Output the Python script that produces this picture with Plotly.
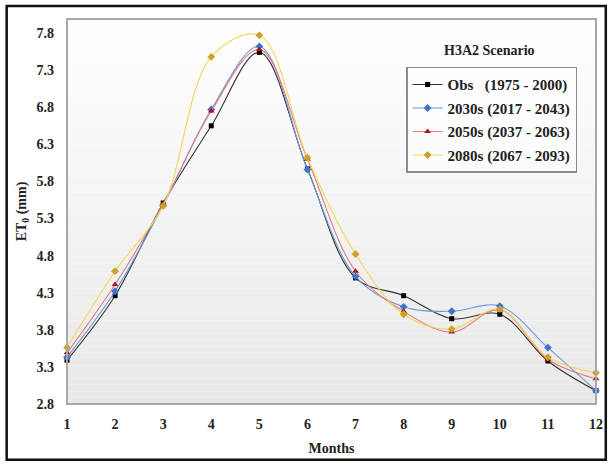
import plotly.graph_objects as go

# Monthly reference evapotranspiration (mm) for the H3A2 scenario
months = list(range(1, 13))
obs_1975_2000 = [3.39, 4.26, 5.51, 6.55, 7.54, 5.97, 4.50, 4.26, 3.95, 4.01, 3.38, 2.98]
s2030_2017_2043 = [3.43, 4.32, 5.48, 6.77, 7.62, 5.96, 4.52, 4.11, 4.05, 4.12, 3.56, 2.98]
s2050_2037_2063 = [3.49, 4.41, 5.50, 6.75, 7.58, 6.10, 4.59, 4.05, 3.77, 4.07, 3.40, 3.14]
s2080_2067_2093 = [3.56, 4.59, 5.47, 7.48, 7.77, 6.12, 4.82, 4.01, 3.81, 4.08, 3.43, 3.22]

series_names = [
    "Obs\u00a0\u00a0\u00a0(1975 - 2000)",
    "2030s (2017 - 2043)",
    "2050s (2037 - 2063)",
    "2080s (2067 - 2093)",
]
y_ticks = [2.8, 3.3, 3.8, 4.3, 4.8, 5.3, 5.8, 6.3, 6.8, 7.3, 7.8]

SERIF = "Liberation Serif"

styles = [
    dict(line="#333333", marker="#000000", symbol="square", size=5),
    dict(line="#6b9ad8", marker="#3d73c8", symbol="diamond", size=6),
    dict(line="#e07a82", marker="#b5121b", symbol="triangle-up", size=6),
    dict(line="#f3d65a", marker="#c9a227", symbol="diamond", size=6),
]

fig = go.Figure()
for i, (name, vals, st) in enumerate(zip(series_names,
                                         [obs_1975_2000, s2030_2017_2043, s2050_2037_2063, s2080_2067_2093],
                                         styles)):
    fig.add_trace(go.Scatter(
        x=months, y=vals, name=name, mode="lines+markers", legendgroup=f"g{i}",
        line=dict(color=st["line"], width=1.1, shape="spline", smoothing=1.0),
        marker=dict(color=st["marker"], symbol=st["symbol"], size=st["size"]),
        cliponaxis=False,
    ))

# vertical white-to-grey gradient behind the plot area
shapes = []
n_bands = 60
top_c, bot_c = 255, 232
for i in range(n_bands):
    y0 = i / n_bands
    y1 = (i + 1) / n_bands
    frac = (y0 + y1) / 2
    c = round(bot_c + (top_c - bot_c) * frac)
    shapes.append(dict(type="rect", xref="paper", yref="paper", x0=0, x1=1,
                       y0=y0, y1=y1, fillcolor=f"rgb({c},{c},{c})",
                       line=dict(width=0), layer="below"))
# plot area frame
shapes.append(dict(type="rect", xref="paper", yref="paper", x0=0, x1=1, y0=0, y1=1,
                   line=dict(color="#a8a8a8", width=2), layer="above"))
# outer chart border
shapes.append(dict(type="rect", xref="paper", yref="paper",
                   x0=-0.114, x1=1.0185, y0=-0.145, y1=1.034,
                   line=dict(color="#111111", width=2.5), layer="above"))

fig.update_layout(
    width=615, height=466,
    margin=dict(l=67, r=13, t=19, b=61),
    paper_bgcolor="white",
    plot_bgcolor="rgba(0,0,0,0)",
    shapes=shapes,
    font=dict(family=SERIF, color="#222222"),
    showlegend=True,
    legend=dict(
        x=0.641, y=0.876, xanchor="left", yanchor="top",
        bgcolor="rgba(255,255,255,0.6)",
        bordercolor="#8c8c8c", borderwidth=1.5,
        font=dict(family=SERIF, size=15, weight="bold", color="#222222"),
        tracegroupgap=1, itemwidth=30,
    ),
    annotations=[dict(
        text="<b>H3A2 Scenario</b>", xref="paper", yref="paper",
        x=0.798, y=0.917, xanchor="center", yanchor="middle", showarrow=False,
        font=dict(family=SERIF, size=14, color="#222222"),
    )],
    xaxis=dict(
        range=[1, 12], tickvals=months, ticks="", showgrid=False, zeroline=False,
        showline=False, ticklabelstandoff=10,
        tickfont=dict(family=SERIF, size=14, weight="bold", color="#222222"),
        title=dict(text="<b>Months</b>", font=dict(family=SERIF, size=14), standoff=12),
    ),
    yaxis=dict(
        range=[2.8, 7.99], tickvals=y_ticks, ticktext=[f"{v:.1f}" for v in y_ticks],
        ticks="", showgrid=False, zeroline=False, showline=False, ticklabelstandoff=12,
        tickfont=dict(family=SERIF, size=14, weight="bold", color="#222222"),
        title=dict(text="<b>ET<sub>0</sub> (mm)</b>", font=dict(family=SERIF, size=14), standoff=6),
    ),
)

fig.write_html("out.html")
